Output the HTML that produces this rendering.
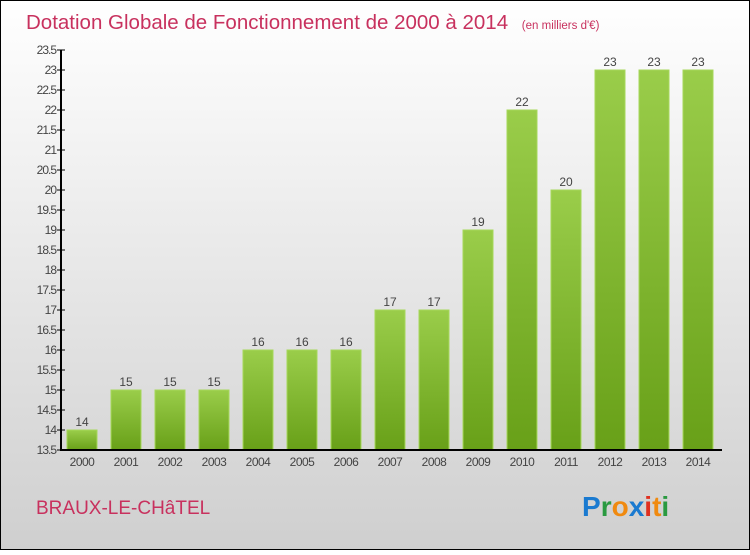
<!DOCTYPE html>
<html><head><meta charset="utf-8"><style>
body{margin:0}
#c{width:750px;height:550px;position:relative;font-family:"Liberation Sans",sans-serif;}
</style></head><body>
<div id="c">
<svg width="750" height="550">
<defs>
<linearGradient id="bg" x1="0" y1="0" x2="0" y2="1"><stop offset="0" stop-color="#ffffff"/><stop offset="1" stop-color="#cfcfcf"/></linearGradient>
<linearGradient id="bar" x1="0" y1="0" x2="0" y2="1"><stop offset="0" stop-color="#9acd4a"/><stop offset="1" stop-color="#68a018"/></linearGradient>
</defs>
<rect x="0.5" y="0.5" width="749" height="549" fill="url(#bg)" stroke="#000"/>
<text x="26" y="29" font-size="20.5" fill="#c8315e">Dotation Globale de Fonctionnement de 2000 à 2014 <tspan font-size="11.5" dx="8">(en milliers d'€)</tspan></text>
<g id="plot"></g>
<text x="36" y="514" font-size="19" fill="#c8315e">BRAUX-LE-CHâTEL</text>
<text x="582" y="516" font-size="28" font-weight="bold"><tspan fill="#1a7ad0">P</tspan><tspan fill="#2a9a40">r</tspan><tspan fill="#f08a10">o</tspan><tspan fill="#1a7ad0">x</tspan><tspan fill="#e03020">i</tspan><tspan fill="#f08a10">t</tspan><tspan fill="#2a9a40">i</tspan></text>
</svg>
</div>
<script>
const years=["2000","2001","2002","2003","2004","2005","2006","2007","2008","2009","2010","2011","2012","2013","2014"];
const values=[14,15,15,15,16,16,16,17,17,19,22,20,23,23,23];
const ticks=[13.5,14,14.5,15,15.5,16,16.5,17,17.5,18,18.5,19,19.5,20,20.5,21,21.5,22,22.5,23,23.5];
const NS="http://www.w3.org/2000/svg";
const plotG=document.getElementById('plot');
const yMin=13.5,yMax=23.5,yTop=50,yBot=450,axX=61;
function ys(v){return yBot-(v-yMin)/(yMax-yMin)*(yBot-yTop);}
function xs(i){return 67+44*i;}
function mk(t,a){const e=document.createElementNS(NS,t);for(const k in a)e.setAttribute(k,a[k]);plotG.appendChild(e);return e;}
ticks.forEach(t=>{
 const l=mk('line',{x1:axX-4,x2:axX+4,y1:ys(t),y2:ys(t),stroke:'#000'});
 
 
 const tx=mk('text',{x:axX-5,y:ys(t)+4,'text-anchor':'end','font-size':'12',fill:'#444','letter-spacing':'-1'});
 tx.textContent=t;
 
 
});
values.forEach((v,i)=>{
 const r=mk('rect',{x:xs(i),y:ys(v),width:30,height:yBot-ys(v),fill:'url(#bar)',stroke:'#a6d85a','stroke-width':1});
 
 
 const vl=mk('text',{x:xs(i)+15,y:ys(v)-4,'text-anchor':'middle','font-size':'12',fill:'#444'});
 vl.textContent=v;
 
 
 const xl=mk('text',{x:xs(i)+15,y:466,'text-anchor':'middle','font-size':'12',fill:'#444','letter-spacing':'-0.5'});
 xl.textContent=years[i];
 
 
});
const ya=mk('line',{x1:axX,x2:axX,y1:yTop,y2:yBot+1,stroke:'#000','stroke-width':2});


const xa=mk('line',{x1:axX,x2:722,y1:yBot,y2:yBot,stroke:'#000','stroke-width':2});


</script>
</body></html>
